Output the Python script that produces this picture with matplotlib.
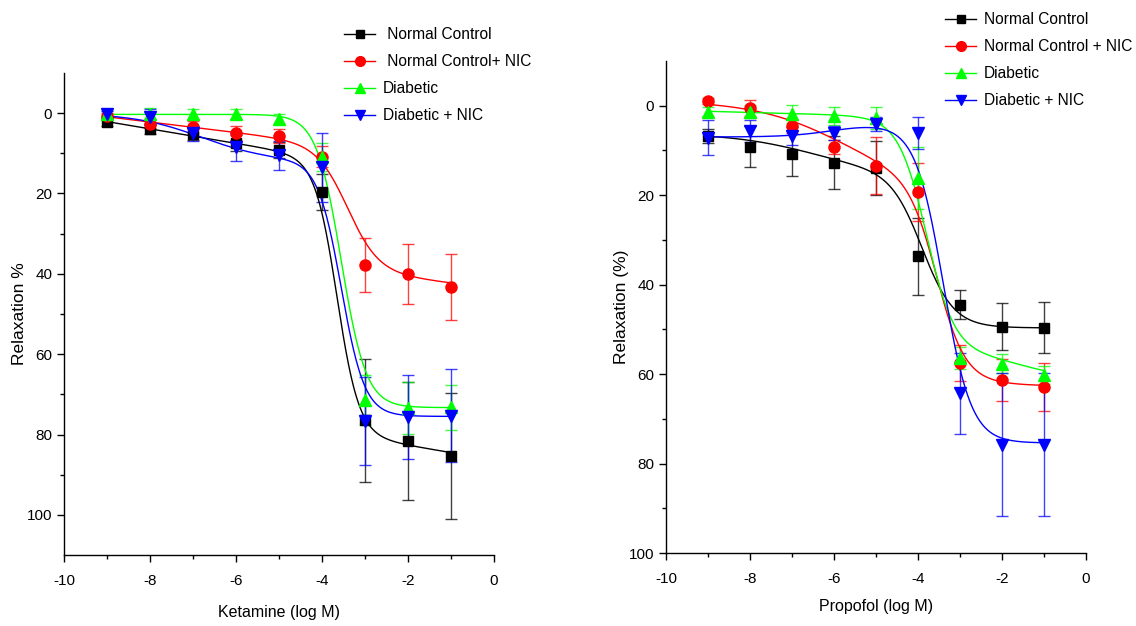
import numpy as np
import matplotlib
matplotlib.use("Agg")
import matplotlib.pyplot as plt
from matplotlib.lines import Line2D

# ---------------- data ----------------
log_dose = [-9, -8, -7, -6, -5, -4, -3, -2, -1]

names_ket = [" Normal Control", " Normal Control+ NIC", "Diabetic", "Diabetic + NIC"]
names_pro = ["Normal Control", "Normal Control + NIC", "Diabetic", "Diabetic + NIC"]

# Ketamine (left panel)
ket_nc = [2.2, 4.0, 5.3, 7.4, 9.2, 19.6, 76.5, 81.6, 85.3]
ket_nc_err = [1.0, 1.2, 1.5, 2.0, 2.0, 4.5, 15.3, 14.7, 15.7]
ket_ncn = [0.8, 2.6, 3.4, 4.9, 5.7, 10.8, 37.8, 40.0, 43.3]
ket_ncn_err = [0.8, 1.2, 1.5, 1.8, 1.8, 2.5, 6.6, 7.5, 8.3]
ket_d = [0.3, 0.3, 0.2, 0.2, 1.4, 10.9, 71.4, 73.4, 73.2]
ket_d_err = [0.8, 1.5, 1.3, 1.2, 1.2, 3.5, 6.3, 6.5, 5.6]
ket_dn = [0.3, 1.0, 5.0, 8.4, 10.5, 13.5, 76.6, 75.6, 75.3]
ket_dn_err = [0.8, 2.0, 1.9, 3.5, 3.6, 8.6, 11.0, 10.4, 11.5]

# Propofol (right panel)
pro_nc = [6.8, 9.2, 10.7, 12.7, 13.9, 33.7, 44.5, 49.4, 49.6]
pro_nc_err = [1.5, 4.6, 5.1, 5.9, 6.0, 8.6, 3.2, 5.2, 5.7]
pro_ncn = [-1.1, 0.5, 4.6, 9.2, 13.4, 19.2, 57.6, 61.3, 62.9]
pro_ncn_err = [0.7, 1.75, 1.5, 1.5, 6.3, 6.5, 4.0, 4.7, 5.3]
pro_d = [1.3, 1.3, 1.9, 2.4, 2.8, 16.2, 56.4, 57.7, 60.3]
pro_d_err = [1.0, 1.5, 2.0, 2.0, 2.5, 7.0, 2.5, 2.1, 2.0]
pro_dn = [7.2, 5.7, 6.8, 6.1, 4.1, 6.1, 64.3, 75.8, 75.8]
pro_dn_err = [3.9, 2.5, 2.0, 1.5, 1.5, 3.5, 9.1, 16.0, 16.0]

# fitted dose-response curve parameters: [A, B, S1, c1, h1, S2, c2, h2]
fit_ket_nc = [0.3, 1.8, 0.0, -6.0, 1.0, 68.0, -3.65, 1.7]
fit_ket_ncn = [-0.4, 1.3, 0.0, -6.0, 1.0, 31.0, -3.4, 1.2]
fit_ket_d = [0.3, 0.0, 0.0, -6.0, 1.0, 73.0, -3.55, 1.5]
fit_ket_dn = [0.0, 0.0, 12.0, -6.8, 0.55, 63.5, -3.55, 1.6]

fit_pro_nc = [6.2, 0.0, 9.0, -6.5, 0.45, 34.5, -3.9, 1.15]
fit_pro_ncn = [-1.2, 0.0, 20.0, -5.7, 0.4, 44.0, -3.55, 1.3]
fit_pro_d = [1.0, 0.25, 6.0, -1.5, 0.6, 52.0, -3.8, 1.3]
fit_pro_dn = [7.0, 0.0, -3.0, -6.0, 0.8, 71.4, -3.4, 1.3]

colors = ["#000000", "#ff0000", "#00ff00", "#0000ff"]
markers = ["s", "o", "^", "v"]
msizes = [7, 8, 8.5, 8.5]


def dose_curve(x, p):
    A, B, S1, c1, h1, S2, c2, h2 = p
    return (A + B * (x + 10) + S1 / (1 + 10 ** ((c1 - x) * h1))
            + S2 / (1 + 10 ** ((c2 - x) * h2)))


plt.rcParams["font.family"] = ["Liberation Sans", "DejaVu Sans"]
plt.rcParams["axes.unicode_minus"] = False

fig = plt.figure(figsize=(11.36, 6.26), dpi=100)
ax1 = fig.add_axes([0.0563, 0.1134, 0.3785, 0.770])
ax2 = fig.add_axes([0.5863, 0.1166, 0.3697, 0.786])

panels = [
    (ax1, [ket_nc, ket_ncn, ket_d, ket_dn],
     [ket_nc_err, ket_ncn_err, ket_d_err, ket_dn_err],
     [fit_ket_nc, fit_ket_ncn, fit_ket_d, fit_ket_dn],
     names_ket, "Ketamine (log M)", "Relaxation %", (110, -10), 12, 0),
    (ax2, [pro_nc, pro_ncn, pro_d, pro_dn],
     [pro_nc_err, pro_ncn_err, pro_d_err, pro_dn_err],
     [fit_pro_nc, fit_pro_ncn, fit_pro_d, fit_pro_dn],
     names_pro, "Propofol (log M)", "Relaxation (%)", (100, -10), 9, 0),
]

for ax, vals, errs, fits, names, xlabel, ylabel, ylim, xlp, ylp in panels:
    xs = np.linspace(min(log_dose), max(log_dose), 400)
    for i in range(4):
        ax.errorbar(log_dose, vals[i], yerr=errs[i], fmt="none",
                    ecolor=colors[i], elinewidth=1.0, capsize=4,
                    capthick=1.0, alpha=0.75, zorder=2)
        ax.plot(xs, dose_curve(xs, fits[i]), color=colors[i], lw=1.0, zorder=3)
        ax.plot(log_dose, vals[i], linestyle="none", marker=markers[i],
                color=colors[i], markersize=msizes[i], zorder=4)

    ax.set_xlim(-10, 0)
    ax.set_ylim(*ylim)
    ax.set_xticks([-10, -8, -6, -4, -2, 0])
    ax.set_xticks([-9, -7, -5, -3, -1], minor=True)
    ax.set_yticks([0, 20, 40, 60, 80, 100])
    ax.set_yticks([10, 30, 50, 70, 90], minor=True)
    for s in ["top", "right"]:
        ax.spines[s].set_visible(False)
    for s in ["left", "bottom"]:
        ax.spines[s].set_linewidth(1.0)
    ax.tick_params(which="major", direction="out", length=5, width=1.0,
                   labelsize=11)
    ax.tick_params(axis="x", which="major", pad=9)
    ax.tick_params(which="minor", direction="out", length=3, width=1.0)
    ax.set_xlabel(xlabel, fontsize=11.5, labelpad=xlp)
    ax.set_ylabel(ylabel, fontsize=12.5, labelpad=ylp)

    handles = [Line2D([], [], color=colors[i], marker=markers[i], lw=1.0,
                      markersize=msizes[i] - 1) for i in range(4)]
    ax.legend(handles, names, loc="upper left", frameon=False,
              fontsize=11.2, handlelength=2.0, handletextpad=0.5,
              labelspacing=0.78, numpoints=1)

ax1.get_legend().set_bbox_to_anchor((330 / 1136, 1 - 13 / 626), transform=fig.transFigure)
ax2.get_legend().set_bbox_to_anchor((931 / 1136, 1 + 2 / 626), transform=fig.transFigure)

fig.savefig("out.png", dpi=100)
